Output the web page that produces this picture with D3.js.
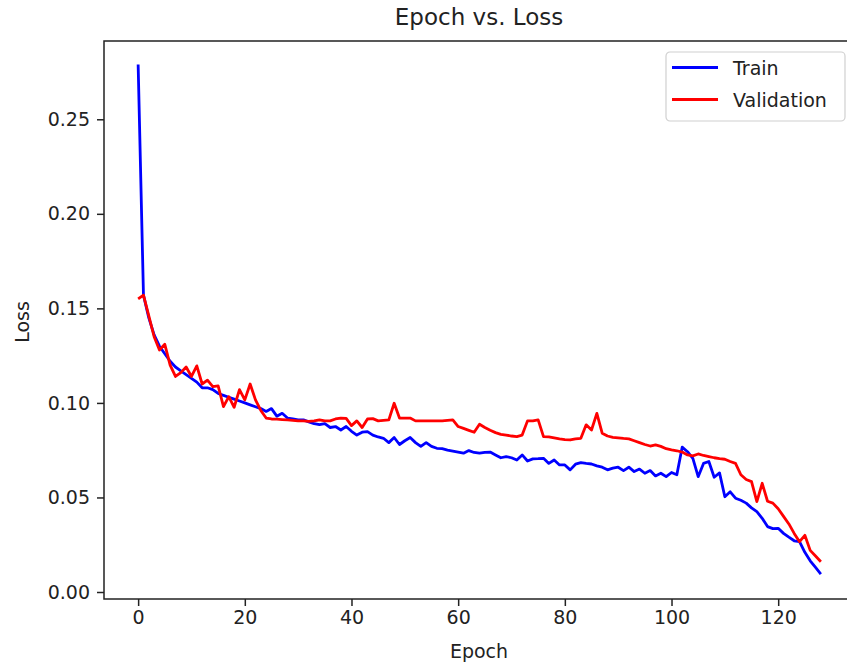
<!DOCTYPE html>
<html lang="en">
	<head>
		<meta charset="utf-8">
		<title>Epoch vs. Loss</title>
		<script src="https://d3js.org/d3.v7.js"></script>
	</head>
	<style type="text/css">
	body { margin: 0; background: white; }
	text { font-family: "DejaVu Sans", sans-serif; fill: #222; }
	</style>
	<body>
	<script>
	// loss values, one per epoch (0..128)
	const trainLoss = [
		0.279, 0.157, 0.145, 0.136, 0.130, 0.126, 0.122, 0.119, 0.117, 0.115,
		0.113, 0.111, 0.108, 0.108, 0.107, 0.105, 0.104, 0.103, 0.102, 0.101,
		0.100, 0.099, 0.098, 0.097, 0.0955, 0.097, 0.093, 0.0945, 0.092, 0.0915,
		0.091, 0.091, 0.090, 0.089, 0.0885, 0.089, 0.087, 0.0875, 0.0857, 0.0875,
		0.085, 0.083, 0.0845, 0.0848, 0.083, 0.082, 0.0813, 0.079, 0.0817, 0.078,
		0.080, 0.0817, 0.079, 0.077, 0.079, 0.077, 0.076, 0.0758, 0.075, 0.0745,
		0.074, 0.0734, 0.0748, 0.0738, 0.0734, 0.0738, 0.074, 0.0725, 0.071, 0.0716,
		0.071, 0.0698, 0.0725, 0.0693, 0.0704, 0.0705, 0.0707, 0.068, 0.0698, 0.0672,
		0.0672, 0.0646, 0.0676, 0.0684, 0.068, 0.0677, 0.0667, 0.066, 0.0646, 0.0655,
		0.066, 0.0642, 0.066, 0.0637, 0.065, 0.0628, 0.0642, 0.0614, 0.0628, 0.061,
		0.0632, 0.062, 0.0766, 0.0742, 0.0707, 0.061, 0.068, 0.069, 0.0607, 0.063,
		0.0504, 0.053, 0.0496, 0.0485, 0.047, 0.0445, 0.0425, 0.039, 0.0346, 0.0335,
		0.0337, 0.031, 0.029, 0.0271, 0.0266, 0.021, 0.0165, 0.013, 0.0095
	];
	const validLoss = [
		0.155, 0.157, 0.146, 0.135, 0.128, 0.131, 0.120, 0.114, 0.116, 0.119,
		0.114, 0.1196, 0.110, 0.112, 0.1086, 0.109, 0.098, 0.1033, 0.0977, 0.107,
		0.1016, 0.110, 0.1016, 0.096, 0.092, 0.0915, 0.0914, 0.0912, 0.091, 0.0908,
		0.0905, 0.0905, 0.0902, 0.0905, 0.091, 0.0905, 0.0905, 0.0915, 0.092, 0.0918,
		0.088, 0.0905, 0.087, 0.0915, 0.0917, 0.0905, 0.0908, 0.091, 0.0998, 0.092,
		0.092, 0.092, 0.0905, 0.0905, 0.0905, 0.0905, 0.0905, 0.0905, 0.0908, 0.091,
		0.0875, 0.0865, 0.0855, 0.0845, 0.0887, 0.087, 0.0855, 0.0843, 0.0834, 0.083,
		0.0825, 0.0822, 0.083, 0.0905, 0.0905, 0.091, 0.0822, 0.082, 0.0815, 0.081,
		0.0806, 0.0804, 0.081, 0.0813, 0.0884, 0.0857, 0.0945, 0.084, 0.0825, 0.0818,
		0.0815, 0.0812, 0.081, 0.080, 0.079, 0.078, 0.0772, 0.0778, 0.077, 0.0758,
		0.0752, 0.0747, 0.074, 0.0725, 0.072, 0.073, 0.0722, 0.0716, 0.071, 0.0705,
		0.0702, 0.069, 0.068, 0.062, 0.0595, 0.0584, 0.0478, 0.0575, 0.048, 0.047,
		0.044, 0.040, 0.036, 0.031, 0.0266, 0.030, 0.022, 0.019, 0.016
	];
	const xTicks = [0, 20, 40, 60, 80, 100, 120];
	const yTicks = [0.00, 0.05, 0.10, 0.15, 0.20, 0.25];
	const seriesNames = ["Train", "Validation"];
	const seriesColors = ["#0000ff", "#ff0000"];

	const SvgWidth = 847
	const SvgHeight = 669
	// plot area (right spine falls just outside the picture)
	const plot = {"left": 104, "right": 855, "top": 41, "bottom": 599}

	const epochs = d3.range(trainLoss.length);

	const xScale = d3.scaleLinear()
		.domain([-6.4, 134.4])
		.range([plot.left, plot.right]);
	const yScale = d3.scaleLinear()
		.domain([-0.0037, 0.2914])
		.range([plot.bottom, plot.top]);

	const svg = d3.select("body").append("svg")
		.attr("width", SvgWidth)
		.attr("height", SvgHeight)

	svg.append("rect")
		.attr("width", SvgWidth)
		.attr("height", SvgHeight)
		.style("fill", "white")

	// lines
	const line = d3.line()
		.x(function(d, i){ return xScale(i); })
		.y(function(d){ return yScale(d); });

	[trainLoss, validLoss].forEach(function(series, k){
		svg.append("path")
			.datum(series)
			.attr("fill", "none")
			.attr("stroke", seriesColors[k])
			.attr("stroke-width", 2.8)
			.attr("stroke-linejoin", "round")
			.attr("d", line);
	});

	// axes
	const xAxis = svg.append("g")
		.attr("transform", "translate(0," + plot.bottom + ")")
		.call(d3.axisBottom(xScale).tickValues(xTicks).tickSize(7).tickPadding(5)
			.tickFormat(d3.format("d")));
	const yAxis = svg.append("g")
		.attr("transform", "translate(" + plot.left + ",0)")
		.call(d3.axisLeft(yScale).tickValues(yTicks).tickSize(7).tickPadding(7)
			.tickFormat(d3.format(".2f")));

	[xAxis, yAxis].forEach(function(ax){
		ax.select(".domain").remove();
		ax.selectAll(".tick line").attr("stroke", "#222").attr("stroke-width", 1.5);
		ax.selectAll(".tick text")
			.style("font-family", "'DejaVu Sans', sans-serif")
			.style("font-size", "19px")
			.attr("fill", "#222");
	});

	// spines
	svg.append("rect")
		.attr("x", plot.left)
		.attr("y", plot.top)
		.attr("width", plot.right - plot.left)
		.attr("height", plot.bottom - plot.top)
		.attr("fill", "none")
		.attr("stroke", "#222")
		.attr("stroke-width", 1.5);

	// labels
	svg.append("text")
		.attr("x", 479)
		.attr("y", 25)
		.attr("text-anchor", "middle")
		.style("font-size", "23px")
		.text("Epoch vs. Loss");

	svg.append("text")
		.attr("x", 479)
		.attr("y", 658)
		.attr("text-anchor", "middle")
		.style("font-size", "19px")
		.text("Epoch");

	svg.append("text")
		.attr("transform", "translate(29,322) rotate(-90)")
		.attr("text-anchor", "middle")
		.style("font-size", "19px")
		.text("Loss");

	// legend
	const legend = svg.append("g")
		.attr("transform", "translate(666,52)");
	legend.append("rect")
		.attr("width", 179)
		.attr("height", 69)
		.attr("rx", 4)
		.attr("fill", "white")
		.attr("fill-opacity", 0.8)
		.attr("stroke", "#d0d0d0")
		.attr("stroke-width", 1.2);

	seriesNames.forEach(function(name, k){
		const yy = 15.5 + k * 32;
		legend.append("line")
			.attr("x1", 6).attr("x2", 52)
			.attr("y1", yy).attr("y2", yy)
			.attr("stroke", seriesColors[k])
			.attr("stroke-width", 2.8);
		legend.append("text")
			.attr("x", 67)
			.attr("y", yy + 7)
			.style("font-size", "19px")
			.text(name);
	});
	</script>
	</body>
</html>
